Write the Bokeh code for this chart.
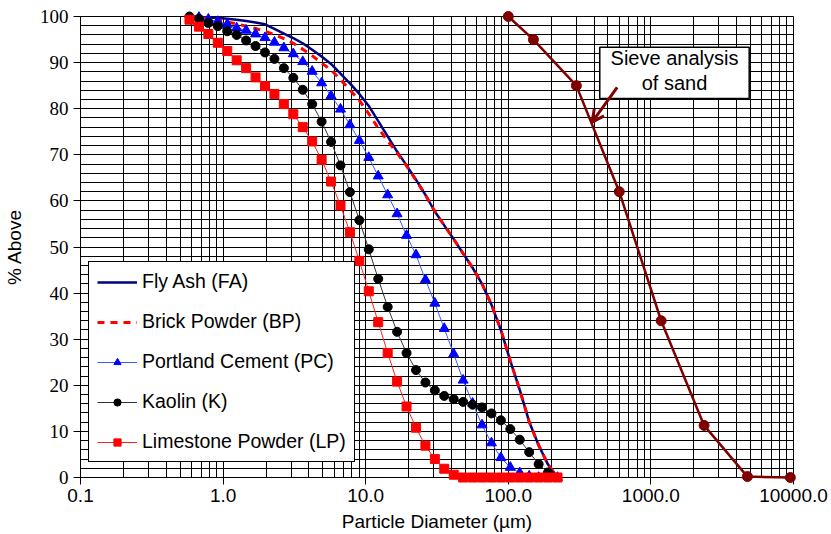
from bokeh.plotting import figure
from bokeh.models import (FixedTicker, CustomJSTickFormatter, Legend, LegendItem,
                          BoxAnnotation, Label, Arrow, OpenHead)
from bokeh.embed import file_html
from bokeh.resources import INLINE

# ---------------- data ----------------
# laser-diffraction size classes (µm)
diameter_um = [0.581, 0.677, 0.788, 0.918, 1.069, 1.245, 1.450, 1.689, 1.967, 2.291,
               2.668, 3.107, 3.618, 4.214, 4.908, 5.715, 6.656, 7.751, 9.027, 10.51,
               12.24, 14.26, 16.60, 19.34, 22.52, 26.23, 30.54, 35.56, 41.42, 48.23,
               56.17, 65.41, 76.17, 88.72, 103.3, 120.3, 140.1, 163.2, 190.0, 221.3]

fly_ash = [100, 99.9, 99.8, 99.7, 99.5, 99.3, 99.0, 98.7, 98.3, 97.3,
           96.3, 95.3, 94.2, 92.8, 91.3, 89.7, 87.6, 85.5, 83.2, 80.6,
           77.3, 74.0, 70.7, 67.7, 64.6, 61.3, 57.7, 54.7, 51.7, 48.6,
           45.5, 42.0, 37.5, 32.0, 25.3, 19.0, 12.1, 7.0, 2.8, 0]

brick_powder = [100, 99.8, 99.5, 99.2, 98.8, 98.4, 97.9, 97.4, 96.8, 96.1,
                95.2, 94.2, 92.9, 91.5, 89.9, 88.4, 86.3, 84.1, 81.8, 78.9,
                75.8, 73.0, 70.4, 67.6, 64.5, 61.3, 57.7, 54.7, 51.7, 48.6,
                45.5, 42.0, 37.5, 32.0, 25.3, 19.0, 12.1, 7.0, 2.8, 0]

# Portland cement starts at the second size class
portland_cement = [99.8, 99.4, 98.9, 98.3, 97.5, 97.0, 96.2, 95.4, 94.4,
                   93.2, 91.9, 90.2, 88.1, 85.6, 82.8, 79.9, 76.5, 73.1, 69.4,
                   65.4, 61.3, 57.2, 52.5, 48.3, 42.9, 37.8, 32.3, 26.8, 21.1,
                   16.1, 11.4, 7.5, 4.3, 2.2, 1.0, 0.3, 0, 0, 0]

# Kaolin ends at the second-to-last size class
kaolin = [100, 99.5, 98.6, 97.9, 96.8, 96.0, 94.8, 93.6, 92.2, 90.8,
          88.8, 86.7, 84.1, 81.0, 77.2, 72.8, 67.7, 61.9, 55.8, 49.5,
          43.1, 37.0, 31.6, 27.0, 23.3, 20.6, 18.9, 17.7, 17.0, 16.4,
          15.8, 15.2, 13.9, 12.4, 10.5, 8.2, 5.5, 2.9, 1.1]

limestone_powder = [99.3, 97.8, 96.2, 94.3, 92.5, 90.5, 88.8, 86.8, 84.9, 83.2,
                    81.0, 78.8, 76.0, 72.9, 68.9, 64.2, 59.0, 53.2, 47.0, 40.4,
                    33.7, 27.0, 20.8, 15.4, 10.8, 6.9, 4.0, 1.9, 0.6, 0,
                    0, 0, 0, 0, 0, 0, 0, 0, 0, 0]

sand_sieve_um = [100, 150, 300, 600, 1180, 2360, 4750, 9500]
sand_above = [100, 95.0, 85.0, 62.0, 34.0, 11.3, 0.2, 0]

x_major = [0.1, 1, 10, 100, 1000, 10000]
x_minor = [m * d for d in [0.1, 1, 10, 100, 1000] for m in range(2, 10)]
y_major = list(range(0, 101, 10))
y_minor = list(range(0, 101, 2))

SANS = "Liberation Sans"
SERIF = "Liberation Serif"

# ---------------- figure ----------------
p = figure(width=831, height=534, x_axis_type="log",
           x_range=(0.1, 10000), y_range=(0, 100),
           output_backend="svg", toolbar_location=None,
           min_border_left=80, min_border_right=38,
           min_border_top=16, min_border_bottom=56)
p.background_fill_color = "white"
p.border_fill_color = "white"
p.outline_line_color = "black"
p.outline_line_width = 1

xt = FixedTicker(ticks=x_major, minor_ticks=x_minor)
yt = FixedTicker(ticks=y_major, minor_ticks=y_minor)
p.xaxis.ticker = xt
p.yaxis.ticker = yt
p.xgrid.ticker = xt
p.ygrid.ticker = yt
p.xaxis.formatter = CustomJSTickFormatter(code="return tick.toFixed(1);")

for g in (p.xgrid, p.ygrid):
    g.grid_line_color = "black"
    g.grid_line_width = 1
    g.grid_line_alpha = 1.0
    g.minor_grid_line_color = "black"
    g.minor_grid_line_width = 1

for ax in (p.xaxis, p.yaxis):
    ax.axis_line_color = "black"
    ax.axis_line_width = 1
    ax.major_tick_line_color = "black"
    ax.major_tick_out = 7
    ax.major_tick_in = 0
    ax.minor_tick_line_color = None
    ax.major_label_text_color = "black"
    ax.major_label_text_font_size = "19px"
    ax.axis_label_text_font = SANS
    ax.axis_label_text_font_size = "19px"
    ax.axis_label_text_font_style = "normal"
    ax.axis_label_text_color = "black"

p.xaxis.major_label_text_font = SANS
p.yaxis.major_label_text_font = SERIF
p.xaxis.major_label_standoff = 4
p.yaxis.major_label_standoff = 5
p.xaxis.axis_label = "Particle Diameter (µm)"
p.yaxis.axis_label = "% Above"
p.xaxis.axis_label_standoff = 6
p.yaxis.axis_label_standoff = 12

# ---------------- series ----------------
r_fa = p.line(diameter_um, fly_ash, line_color="#000080", line_width=2.5, level="overlay")
r_bp = p.line(diameter_um, brick_powder, line_color="#ff0000", line_width=3,
              line_dash="7 6", level="overlay")

pc_x = diameter_um[1:]
r_pc_l = p.line(pc_x, portland_cement, line_color="#3a5cff", line_width=1, level="overlay")
r_pc_m = p.scatter(pc_x, portland_cement, marker="triangle", size=10,
                   fill_color="#0000ff", line_color="#0000ff", level="overlay")

k_x = diameter_um[:len(kaolin)]
r_k_l = p.line(k_x, kaolin, line_color="#333333", line_width=1, level="overlay")
r_k_m = p.scatter(k_x, kaolin, marker="circle", size=9,
                  fill_color="black", line_color="black", level="overlay")

r_lp_l = p.line(diameter_um, limestone_powder, line_color="#ff2020", line_width=1, level="overlay")
r_lp_m = p.scatter(diameter_um, limestone_powder, marker="square", size=9,
                   fill_color="#ff0000", line_color="#ff0000", level="overlay")

p.line(sand_sieve_um, sand_above, line_color="#800000", line_width=2.5, level="overlay")
p.scatter(sand_sieve_um, sand_above, marker="circle", size=10,
          fill_color="#800000", line_color="#800000", level="overlay")

# ---------------- annotation ----------------
box = BoxAnnotation(left=438, right=4890, bottom=82.2, top=93.35,
                    fill_color="white", fill_alpha=1.0,
                    line_color="black", line_width=1.5, line_alpha=1.0)
p.add_layout(box)
p.add_layout(Label(x=1464, y=91.1, text="Sieve analysis", text_align="center",
                   text_baseline="middle", text_font=SANS,
                   text_font_size="20px", text_color="black"))
p.add_layout(Label(x=1464, y=85.6, text="of sand", text_align="center",
                   text_baseline="middle", text_font=SANS,
                   text_font_size="20px", text_color="black"))
p.add_layout(Arrow(x_start=580, y_start=84.6, x_end=387, y_end=77.1,
                   line_color="#800000", line_width=3,
                   end=OpenHead(size=12, line_color="#800000", line_width=3)))

# ---------------- legend ----------------
legend = Legend(items=[
    LegendItem(label="Fly Ash (FA)", renderers=[r_fa]),
    LegendItem(label="Brick Powder (BP)", renderers=[r_bp]),
    LegendItem(label="Portland Cement (PC)", renderers=[r_pc_l, r_pc_m]),
    LegendItem(label="Kaolin (K)", renderers=[r_k_l, r_k_m]),
    LegendItem(label="Limestone Powder (LP)", renderers=[r_lp_l, r_lp_m]),
], location=(8, 15))
legend.margin = 0
legend.padding = 8
legend.spacing = 17
legend.label_height = 18
legend.glyph_height = 18
legend.glyph_width = 40
legend.label_standoff = 5
legend.label_text_font = SANS
legend.label_text_font_size = "19.5px"
legend.label_text_color = "black"
legend.border_line_color = "black"
legend.border_line_width = 1.5
legend.border_line_alpha = 1.0
legend.background_fill_color = "white"
legend.background_fill_alpha = 1.0
p.add_layout(legend)

open("out.html", "w").write(file_html(p, INLINE))
